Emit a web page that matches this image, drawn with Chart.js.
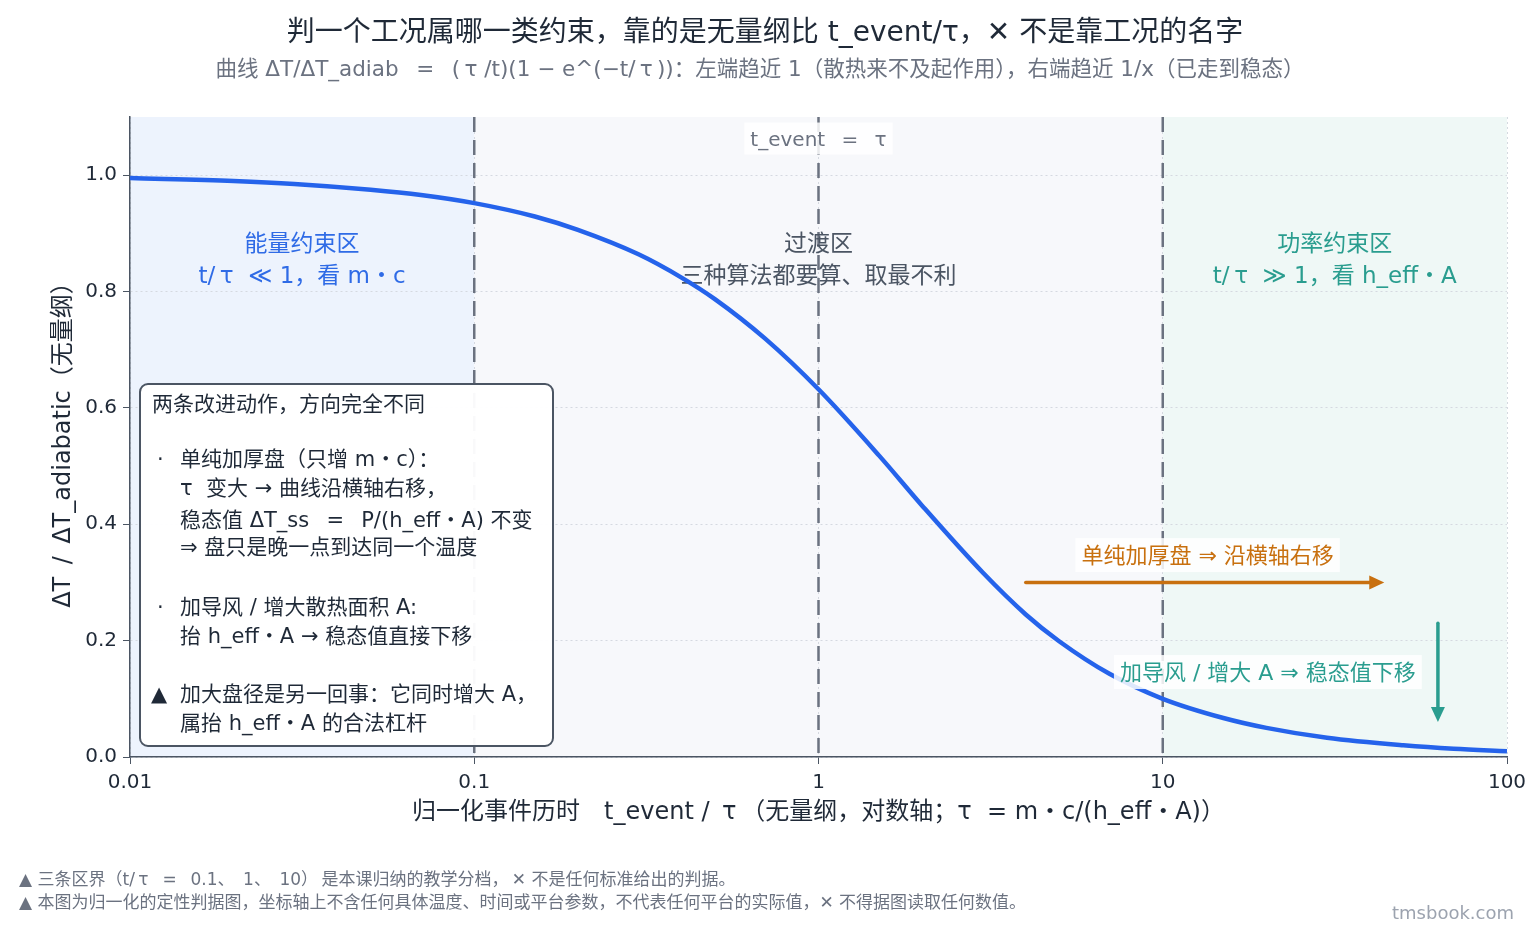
<!DOCTYPE html>
<html>
<head>
<meta charset="utf-8">
<script src="https://cdn.jsdelivr.net/npm/chart.js@4.4.1/dist/chart.umd.min.js"></script>
<style>
  html, body { margin: 0; padding: 0; background: #fff; }
  #wrap { width: 1530px; height: 930px; position: relative; }
</style>
</head>
<body>
<div id="wrap"><canvas id="chart"></canvas></div>
<script>
const FONT = '"DejaVu Sans", "Noto Sans CJK SC", sans-serif';

// t_event / tau
const ratio = [0.01, 0.02, 0.03, 0.05, 0.07, 0.1, 0.15, 0.2, 0.3, 0.4, 0.5, 0.7, 1, 1.5, 2, 3, 4, 5, 7, 10, 15, 20, 30, 50, 70, 100];
// ΔT / ΔT_adiabatic
const tempRatio = [0.995, 0.990, 0.985, 0.975, 0.966, 0.952, 0.929, 0.906, 0.864, 0.824, 0.787, 0.719, 0.632, 0.518, 0.432, 0.317, 0.245, 0.199, 0.143, 0.100, 0.067, 0.050, 0.033, 0.020, 0.014, 0.010];

const xTicks = [0.01, 0.1, 1, 10, 100];
const xTickLabels = ['0.01', '0.1', '1', '10', '100'];
const yTicks = [0, 0.2, 0.4, 0.6, 0.8, 1.0];

// zone borders and zones
const zoneEdges = [0.01, 0.1, 10, 100];
const boundaryLines = [0.1, 1, 10];

// "加厚盘" arrow (horizontal) and "加导风" arrow (vertical)
const shiftArrowX = [4, 44];
const shiftArrowY = 0.3;
const dropArrowX = 63;
const dropArrowY = [0.23, 0.06];

const zoneLabels = [
  { x: 0.0316, lines: ['能量约束区', 't/\u2009τ  ≪ 1，看 m・c'], color: '#2f6be6' },
  { x: 1, lines: ['过渡区', '三种算法都要算、取最不利'], color: '#4b5563' },
  { x: 31.6, lines: ['功率约束区', 't/\u2009τ  ≫ 1，看 h_eff・A'], color: '#2a9d8f' }
];

const noteLines = [
  { t: '两条改进动作，方向完全不同', indent: 0 },
  null,
  { t: '单纯加厚盘（只增 m・c）：', indent: 1, bullet: '·' },
  { t: 'τ  变大 → 曲线沿横轴右移，', indent: 1 },
  { t: '稳态值 ΔT_ss \u2002=\u2002 P/(h_eff・A) 不变', indent: 1 },
  { t: '⇒ 盘只是晚一点到达同一个温度', indent: 1 },
  null,
  { t: '加导风 / 增大散热面积 A:', indent: 1, bullet: '·' },
  { t: '抬 h_eff・A → 稳态值直接下移', indent: 1 },
  null,
  { t: '加大盘径是另一回事：它同时增大 A，', indent: 1, bullet: '▲' },
  { t: '属抬 h_eff・A 的合法杠杆', indent: 1 }
];

function labelBox(ctx, text, cx, cy, size, color, bg) {
  ctx.font = size + 'px ' + FONT;
  const w = ctx.measureText(text).width;
  if (bg) {
    ctx.fillStyle = bg;
    ctx.fillRect(cx - w / 2 - 6, cy - size / 2 - 6, w + 12, size + 12);
  }
  ctx.fillStyle = color;
  ctx.textAlign = 'center';
  ctx.textBaseline = 'middle';
  ctx.fillText(text, cx, cy + 2);
}

function arrow(ctx, x1, y1, x2, y2, color) {
  const a = Math.atan2(y2 - y1, x2 - x1);
  const hl = 15, hw = 7;
  ctx.save();
  ctx.strokeStyle = color;
  ctx.fillStyle = color;
  ctx.lineWidth = 3.5;
  ctx.lineCap = 'round';
  ctx.beginPath();
  ctx.moveTo(x1, y1);
  ctx.lineTo(x2 - Math.cos(a) * hl * 0.6, y2 - Math.sin(a) * hl * 0.6);
  ctx.stroke();
  ctx.beginPath();
  ctx.moveTo(x2, y2);
  ctx.lineTo(x2 - Math.cos(a) * hl + Math.sin(a) * hw, y2 - Math.sin(a) * hl - Math.cos(a) * hw);
  ctx.lineTo(x2 - Math.cos(a) * hl - Math.sin(a) * hw, y2 - Math.sin(a) * hl + Math.cos(a) * hw);
  ctx.closePath();
  ctx.fill();
  ctx.restore();
}

const backdrop = {
  id: 'backdrop',
  beforeDraw(chart) {
    const { ctx, chartArea: a, scales: { x } } = chart;
    const fills = ['#edf3fd', '#f7f8fb', '#eff8f6'];
    ctx.save();
    for (let i = 0; i < 3; i++) {
      const x0 = x.getPixelForValue(zoneEdges[i]);
      const x1 = x.getPixelForValue(zoneEdges[i + 1]);
      ctx.fillStyle = fills[i];
      ctx.fillRect(x0, a.top, x1 - x0, a.bottom - a.top);
    }
    ctx.restore();
  },
  beforeDatasetsDraw(chart) {
    const { ctx, chartArea: a, scales: { x, y } } = chart;
    ctx.save();
    ctx.strokeStyle = '#6b7280';
    ctx.lineWidth = 2.5;
    ctx.setLineDash([15, 8]);
    boundaryLines.forEach(v => {
      const px = x.getPixelForValue(v);
      ctx.beginPath();
      ctx.moveTo(px, a.top);
      ctx.lineTo(px, a.bottom);
      ctx.stroke();
    });
    ctx.setLineDash([]);
    labelBox(ctx, 't_event \u2002=\u2002 τ', x.getPixelForValue(1), y.getPixelForValue(1.063), 20, '#6b7280', 'rgba(255,255,255,0.85)');
    zoneLabels.forEach(z => {
      const px = x.getPixelForValue(z.x);
      labelBox(ctx, z.lines[0], px, y.getPixelForValue(0.883), 23, z.color);
      labelBox(ctx, z.lines[1], px, y.getPixelForValue(0.828), 23, z.color);
    });
    ctx.restore();
  },
  afterDatasetsDraw(chart) {
    const { ctx, scales: { x, y } } = chart;
    ctx.save();
    arrow(ctx, x.getPixelForValue(shiftArrowX[0]), y.getPixelForValue(shiftArrowY),
      x.getPixelForValue(shiftArrowX[1]), y.getPixelForValue(shiftArrowY), '#c8700f');
    arrow(ctx, x.getPixelForValue(dropArrowX), y.getPixelForValue(dropArrowY[0]),
      x.getPixelForValue(dropArrowX), y.getPixelForValue(dropArrowY[1]), '#2a9d8f');
    labelBox(ctx, '单纯加厚盘 ⇒ 沿横轴右移', x.getPixelForValue(13.5), y.getPixelForValue(0.347), 22, '#c8700f', 'rgba(255,255,255,0.85)');
    labelBox(ctx, '加导风 / 增大 A ⇒ 稳态值下移', x.getPixelForValue(20.2), y.getPixelForValue(0.146), 22, '#2a9d8f', 'rgba(255,255,255,0.85)');

    // note box
    const bx = 140, by = 384, bw = 413, bh = 362;
    ctx.fillStyle = 'rgba(255,255,255,0.96)';
    ctx.strokeStyle = '#4b5563';
    ctx.lineWidth = 2;
    ctx.beginPath();
    ctx.roundRect(bx, by, bw, bh, 8);
    ctx.fill();
    ctx.stroke();
    ctx.font = '21px ' + FONT;
    ctx.fillStyle = '#1f2937';
    ctx.textAlign = 'left';
    ctx.textBaseline = 'middle';
    const rows = [404, 0, 459, 488, 520, 547, 0, 607, 636, 0, 694, 723];
    noteLines.forEach((l, i) => {
      if (!l) return;
      const tx = l.indent ? 180 : 152;
      const ty = rows[i] + 2;
      if (l.bullet === '·') ctx.fillText('·', 157, ty);
      if (l.bullet === '▲') ctx.fillText('▲', 151, ty);
      ctx.fillText(l.t, tx, ty);
    });
    ctx.restore();
  },
  afterDraw(chart) {
    const { ctx, chartArea: a } = chart;
    ctx.save();
    labelBox(ctx, '判一个工况属哪一类约束，靠的是无量纲比 t_event/τ，✕ 不是靠工况的名字', 765, 32, 28, '#1f2937');
    labelBox(ctx, '曲线 ΔT/ΔT_adiab \u2002=\u2002 (\u2009τ /t)(1 − e^(−t/\u2009τ\u2009))：左端趋近 1（散热来不及起作用），右端趋近 1/x（已走到稳态）', 760, 68, 21.5, '#6b7280');
    labelBox(ctx, '归一化事件历时　t_event / \u2009τ\u2009（无量纲，对数轴；τ  = m・c/(h_eff・A)）', (a.left + a.right) / 2, 811, 24, '#1f2937');
    ctx.save();
    ctx.translate(62, (a.top + a.bottom) / 2 + 2);
    ctx.rotate(-Math.PI / 2);
    labelBox(ctx, 'ΔT \u2009/\u2009 ΔT_adiabatic（无量纲）', 0, 0, 24, '#1f2937');
    ctx.restore();
    ctx.font = '17px ' + FONT;
    ctx.fillStyle = '#6b7280';
    ctx.textAlign = 'left';
    ctx.textBaseline = 'middle';
    ctx.fillText('▲ 三条区界（t/\u2009τ \u2002=\u2002 0.1、\u20021、\u200210）\u2009是本课归纳的教学分档，\u2009✕ 不是任何标准给出的判据。', 19, 881);
    ctx.fillText('▲ 本图为归一化的定性判据图，坐标轴上不含任何具体温度、时间或平台参数，不代表任何平台的实际值，✕ 不得据图读取任何数值。', 19, 904);
    ctx.font = '18px ' + FONT;
    ctx.fillStyle = '#9ca3af';
    ctx.textAlign = 'right';
    ctx.fillText('tmsbook.com', 1514, 914);
    ctx.restore();
  }
};

new Chart(document.getElementById('chart'), {
  type: 'line',
  data: {
    datasets: [{
      data: ratio.map((v, i) => ({ x: v, y: tempRatio[i] })),
      borderColor: '#2563eb',
      borderWidth: 4.5,
      pointRadius: 0,
      cubicInterpolationMode: 'monotone',
      fill: false
    }]
  },
  options: {
    responsive: true,
    maintainAspectRatio: false,
    animation: false,
    layout: { padding: { top: 117, right: 23, left: 0, bottom: 0 } },
    plugins: { legend: { display: false }, tooltip: { enabled: false } },
    scales: {
      x: {
        type: 'logarithmic',
        min: 0.01,
        max: 100,
        afterBuildTicks: s => { s.ticks = xTicks.map(v => ({ value: v })); },
        afterFit: s => { s.height = 173; s.paddingLeft = 0; s.paddingRight = 0; },
        ticks: {
          callback: v => xTickLabels[xTicks.indexOf(v)] ?? '',
          font: { family: FONT, size: 20 },
          color: '#1f2937',
          maxRotation: 0,
          autoSkip: false,
          padding: 7
        },
        grid: { color: '#d5d9e0', tickColor: '#4b5563', tickLength: 7, lineWidth: 1 },
        border: { color: '#4b5563', width: 1.5, dash: [2, 3] }
      },
      y: {
        min: 0,
        max: 1.1,
        afterBuildTicks: s => { s.ticks = yTicks.map(v => ({ value: v })); },
        afterFit: s => { s.width = 130; },
        ticks: {
          callback: v => v.toFixed(1),
          font: { family: FONT, size: 20 },
          color: '#1f2937',
          padding: 6
        },
        grid: { color: '#d5d9e0', tickColor: '#4b5563', tickLength: 7, lineWidth: 1 },
        border: { color: '#4b5563', width: 1.5, dash: [2, 3] }
      }
    }
  },
  plugins: [backdrop]
});
</script>
</body>
</html>
